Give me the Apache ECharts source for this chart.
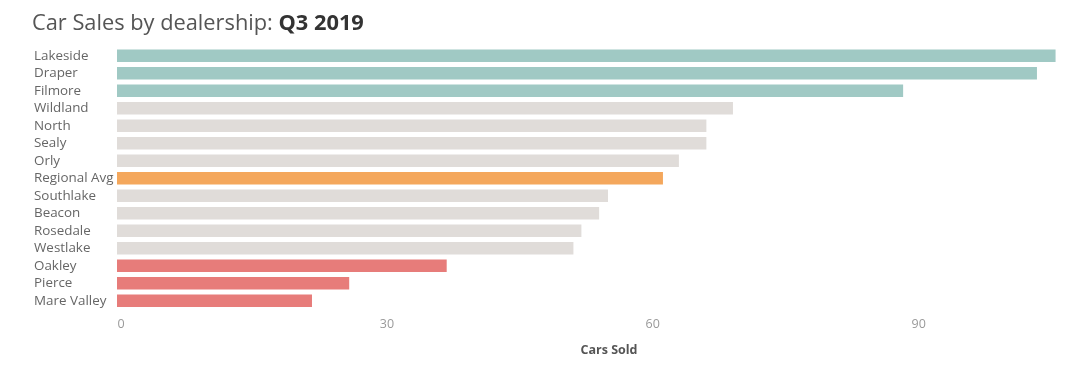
<!DOCTYPE html>
<html><head><meta charset="utf-8">
<script src="https://cdn.jsdelivr.net/npm/echarts@6/dist/echarts.min.js"></script>
<style>html,body{margin:0;padding:0;background:#fff}#c{width:1080px;height:372px}</style>
</head><body><div id="c"></div>
<script>
const categories = ['Lakeside','Draper','Filmore','Wildland','North','Sealy','Orly','Regional Avg','Southlake','Beacon','Rosedale','Westlake','Oakley','Pierce','Mare Valley'];
const carsSold = [105.9,103.8,88.7,69.5,66.5,66.5,63.4,61.6,55.4,54.4,52.4,51.5,37.2,26.2,22.0];
const groups = ['top','top','top','mid','mid','mid','mid','avg','mid','mid','mid','mid','low','low','low'];
const tickValues = [0,30,60,90];
const groupColors = {top:'#a0c9c4', mid:'#e0dcd9', avg:'#f4a75c', low:'#e77c7a'};
const FONT = 'Open Sans';
const chart = echarts.init(document.getElementById('c'));
chart.setOption({
  animation:false,
  backgroundColor:'#fff',
  title:{
    left:27, top:8,
    text:'{a|Car Sales by dealership: }{b|Q3 2019}',
    textStyle:{rich:{
      a:{fontFamily:FONT,fontSize:21.8,color:'#555',fontWeight:'normal'},
      b:{fontFamily:FONT,fontSize:21.8,color:'#333',fontWeight:'bold'}
    }}
  },
  grid:{left:117,right:20,top:47,bottom:372-309.5,containLabel:false},
  xAxis:{
    type:'value', min:0, max:106.4, interval:30,
    axisLine:{show:false}, axisTick:{show:false}, splitLine:{show:false},
    axisLabel:{showMaxLabel:false, margin:8, fontFamily:FONT, fontSize:12.5, color:'#9a9a9a', padding:[0,0,0,8],
      formatter:v=> tickValues.includes(v)? String(v):''},
    name:'Cars Sold', nameLocation:'middle', nameGap:34,
    nameTextStyle:{fontFamily:FONT,fontSize:12.5,fontWeight:'bold',color:'#555',padding:[0,0,0,41]}
  },
  yAxis:{
    type:'category', data:categories, inverse:true,
    axisLine:{show:false}, axisTick:{show:false}, splitLine:{show:false},
    axisLabel:{align:'left', margin:83, fontFamily:FONT, fontSize:13.4, color:'#666'}
  },
  series:[{
    type:'bar', barCategoryGap:'28%',
    data:carsSold.map((v,i)=>({value:v,itemStyle:{color:groupColors[groups[i]]}}))
  }]
});
</script></body></html>
